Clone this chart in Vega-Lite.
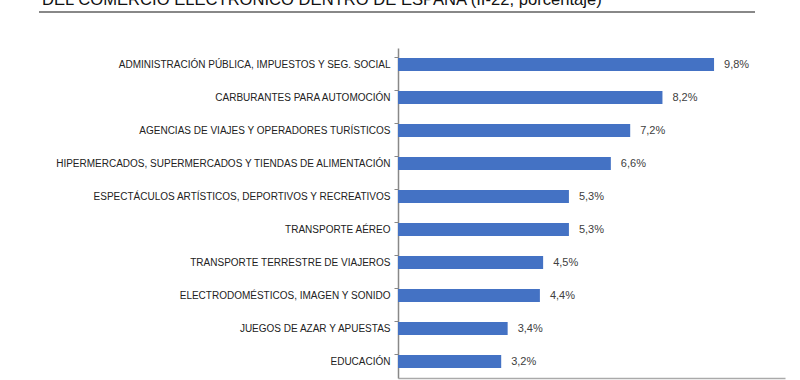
{
  "$schema": "https://vega.github.io/schema/vega-lite/v6.json",
  "autosize": {"type": "none"},
  "width": 387,
  "height": 330,
  "padding": {"left": 398, "top": 48, "right": 15, "bottom": 2},
  "background": "white",
  "title": {
    "text": "DEL COMERCIO ELECTRÓNICO DENTRO DE ESPAÑA (II-22, porcentaje)",
    "anchor": "start",
    "frame": "group",
    "dx": -356,
    "offset": 3,
    "dy": 14,
    "baseline": "alphabetic",
    "font": "Liberation Sans",
    "fontSize": 16.6,
    "fontWeight": "normal",
    "color": "#111111"
  },
  "config": {
    "view": {"stroke": null},
    "font": "Liberation Sans"
  },
  "data": {
    "values": [
      {"sector": "ADMINISTRACIÓN PÚBLICA, IMPUESTOS Y SEG. SOCIAL", "valor": 9.8},
      {"sector": "CARBURANTES PARA AUTOMOCIÓN", "valor": 8.2},
      {"sector": "AGENCIAS DE VIAJES Y OPERADORES TURÍSTICOS", "valor": 7.2},
      {"sector": "HIPERMERCADOS, SUPERMERCADOS Y TIENDAS DE ALIMENTACIÓN", "valor": 6.6},
      {"sector": "ESPECTÁCULOS ARTÍSTICOS, DEPORTIVOS Y RECREATIVOS", "valor": 5.3},
      {"sector": "TRANSPORTE AÉREO", "valor": 5.3},
      {"sector": "TRANSPORTE TERRESTRE DE VIAJEROS", "valor": 4.5},
      {"sector": "ELECTRODOMÉSTICOS,  IMAGEN Y SONIDO", "valor": 4.4},
      {"sector": "JUEGOS DE AZAR Y APUESTAS", "valor": 3.4},
      {"sector": "EDUCACIÓN", "valor": 3.2}
    ]
  },
  "encoding": {
    "y": {
      "field": "sector",
      "type": "nominal",
      "sort": null,
      "scale": {"paddingInner": 0.6, "paddingOuter": 0.3},
      "axis": {
        "title": null,
        "domainColor": "#888888",
        "domainWidth": 1.5,
        "tickColor": "#888888",
        "tickSize": 4,
        "bandPosition": 0,
        "labelFont": "Liberation Sans",
        "labelFontSize": 10,
        "labelColor": "#222222",
        "labelPadding": 4,
        "labelLimit": 400
      }
    }
  },
  "layer": [
    {
      "mark": {"type": "bar", "color": "#4472C4", "height": {"band": 1}},
      "encoding": {
        "x": {
          "field": "valor",
          "type": "quantitative",
          "scale": {"domain": [0, 12], "nice": false},
          "axis": {
            "title": null,
            "labels": false,
            "ticks": false,
            "grid": false,
            "domainColor": "#aaaaaa",
            "domainWidth": 1.5
          }
        }
      }
    },
    {
      "mark": {
        "type": "text",
        "align": "left",
        "dx": 10,
        "fontSize": 11,
        "color": "#404040",
        "font": "Liberation Sans",
        "text": {"expr": "replace(format(datum.valor, '.1f'), '.', ',') + '%'"}
      },
      "encoding": {
        "x": {"field": "valor", "type": "quantitative"}
      }
    },
    {
      "mark": {"type": "rule", "color": "#888888", "strokeWidth": 2},
      "encoding": {
        "x": {"datum": -11.13},
        "x2": {"datum": 11.07},
        "y": {"value": -36}
      }
    }
  ]
}
